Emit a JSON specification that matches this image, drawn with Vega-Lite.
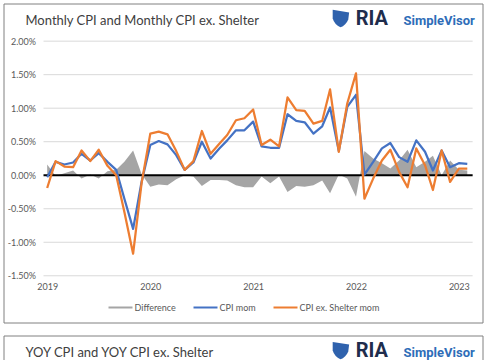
{
  "$schema": "https://vega.github.io/schema/vega-lite/v6.json",
  "padding": {"left": 2.5, "top": 2.5, "right": 0, "bottom": 0},
  "background": "white",
  "spacing": 11,
  "resolve": {"scale": {"color": "independent"}, "legend": {"color": "independent"}},
  "config": {
    "view": {"stroke": "#808080", "strokeWidth": 1},
    "font": "Lato",
    "legend": {"layout": {"bottom": {"anchor": "middle"}}}
  },
  "vconcat": [
    {
      "width": 479,
      "height": 319,
      "data": {"values": [
        {"date":"2019-06-01","cpi":-0.03,"ex":-0.19,"diff":0.16},
        {"date":"2019-07-01","cpi":0.20,"ex":0.21,"diff":-0.01},
        {"date":"2019-08-01","cpi":0.16,"ex":0.13,"diff":0.03},
        {"date":"2019-09-01","cpi":0.19,"ex":0.12,"diff":0.07},
        {"date":"2019-10-01","cpi":0.32,"ex":0.37,"diff":-0.05},
        {"date":"2019-11-01","cpi":0.22,"ex":0.21,"diff":0.01},
        {"date":"2019-12-01","cpi":0.33,"ex":0.38,"diff":-0.05},
        {"date":"2020-01-01","cpi":0.20,"ex":0.14,"diff":0.06},
        {"date":"2020-02-01","cpi":0.08,"ex":0.00,"diff":0.08},
        {"date":"2020-03-01","cpi":-0.35,"ex":-0.55,"diff":0.20},
        {"date":"2020-04-01","cpi":-0.80,"ex":-1.17,"diff":0.37},
        {"date":"2020-05-01","cpi":-0.10,"ex":-0.12,"diff":0.02},
        {"date":"2020-06-01","cpi":0.45,"ex":0.62,"diff":-0.17},
        {"date":"2020-07-01","cpi":0.51,"ex":0.65,"diff":-0.14},
        {"date":"2020-08-01","cpi":0.46,"ex":0.61,"diff":-0.15},
        {"date":"2020-09-01","cpi":0.30,"ex":0.36,"diff":-0.06},
        {"date":"2020-10-01","cpi":0.08,"ex":0.08,"diff":0.00},
        {"date":"2020-11-01","cpi":0.19,"ex":0.21,"diff":-0.02},
        {"date":"2020-12-01","cpi":0.50,"ex":0.66,"diff":-0.16},
        {"date":"2021-01-01","cpi":0.25,"ex":0.32,"diff":-0.07},
        {"date":"2021-02-01","cpi":0.40,"ex":0.47,"diff":-0.07},
        {"date":"2021-03-01","cpi":0.52,"ex":0.60,"diff":-0.08},
        {"date":"2021-04-01","cpi":0.67,"ex":0.82,"diff":-0.15},
        {"date":"2021-05-01","cpi":0.67,"ex":0.85,"diff":-0.18},
        {"date":"2021-06-01","cpi":0.80,"ex":0.98,"diff":-0.18},
        {"date":"2021-07-01","cpi":0.43,"ex":0.45,"diff":-0.02},
        {"date":"2021-08-01","cpi":0.41,"ex":0.53,"diff":-0.12},
        {"date":"2021-09-01","cpi":0.41,"ex":0.43,"diff":-0.02},
        {"date":"2021-10-01","cpi":0.91,"ex":1.16,"diff":-0.25},
        {"date":"2021-11-01","cpi":0.81,"ex":0.97,"diff":-0.16},
        {"date":"2021-12-01","cpi":0.79,"ex":0.96,"diff":-0.17},
        {"date":"2022-01-01","cpi":0.62,"ex":0.77,"diff":-0.15},
        {"date":"2022-02-01","cpi":0.73,"ex":0.81,"diff":-0.08},
        {"date":"2022-03-01","cpi":1.01,"ex":1.28,"diff":-0.27},
        {"date":"2022-04-01","cpi":0.36,"ex":0.35,"diff":0.01},
        {"date":"2022-05-01","cpi":1.02,"ex":1.07,"diff":-0.05},
        {"date":"2022-06-01","cpi":1.20,"ex":1.52,"diff":-0.32},
        {"date":"2022-07-01","cpi":0.01,"ex":-0.35,"diff":0.36},
        {"date":"2022-08-01","cpi":0.20,"ex":-0.05,"diff":0.25},
        {"date":"2022-09-01","cpi":0.40,"ex":0.22,"diff":0.18},
        {"date":"2022-10-01","cpi":0.48,"ex":0.38,"diff":0.10},
        {"date":"2022-11-01","cpi":0.27,"ex":0.05,"diff":0.22},
        {"date":"2022-12-01","cpi":0.20,"ex":-0.18,"diff":0.38},
        {"date":"2023-01-01","cpi":0.52,"ex":0.40,"diff":0.12},
        {"date":"2023-02-01","cpi":0.35,"ex":0.15,"diff":0.20},
        {"date":"2023-03-01","cpi":0.07,"ex":-0.22,"diff":0.29},
        {"date":"2023-04-01","cpi":0.37,"ex":0.37,"diff":0.00},
        {"date":"2023-05-01","cpi":0.12,"ex":-0.10,"diff":0.22},
        {"date":"2023-06-01","cpi":0.18,"ex":0.10,"diff":0.08},
        {"date":"2023-07-01","cpi":0.17,"ex":0.10,"diff":0.07}
      ]},
      "layer": [
        {
          "data": {"values": [{"v":-1.5},{"v":-1.0},{"v":-0.5},{"v":0.5},{"v":1.0},{"v":1.5},{"v":2.0}]},
          "mark": {"type": "rule", "color": "#d9d9d9", "strokeWidth": 1},
          "encoding": {
            "y": {"field": "v", "type": "quantitative", "title": null,
                  "scale": {"domain": [-2.197, 2.562], "nice": false, "zero": false},
                  "axis": {"values": [-1.5,-1,-0.5,0,0.5,1,1.5,2], "labelExpr": "(datum.value < 0 ? '-' : '') + format(abs(datum.value), '.2f') + '%'", "domain": false, "ticks": false, "grid": false, "offset": -40, "labelPadding": 8, "labelFontSize": 9, "labelColor": "#595959", "labelFont": "Lato"}},
            "x": {"datum": {"year": 2019, "month": 5, "date": 19, "utc": true}, "type": "temporal"},
            "x2": {"datum": {"year": 2023, "month": 7, "date": 20, "utc": true}}
          }
        },
        {
          "mark": {"type": "area", "opacity": 1},
          "encoding": {
            "x": {"field": "date", "type": "temporal", "title": null,
                  "scale": {"domain": [{"year": 2018, "month": 12, "date": 28, "utc": true}, {"year": 2023, "month": 8, "date": 24, "utc": true}]},
                  "axis": {"values": [{"year": 2019, "month": 6, "date": 1, "utc": true},{"year": 2020, "month": 6, "date": 1, "utc": true},{"year": 2021, "month": 6, "date": 1, "utc": true},{"year": 2022, "month": 6, "date": 1, "utc": true},{"year": 2023, "month": 6, "date": 1, "utc": true}],
                           "labelExpr": "utcFormat(datum.value, '%Y')", "domain": false, "ticks": false, "grid": false, "offset": -47, "labelPadding": 7, "labelFontSize": 9, "labelColor": "#595959", "labelFont": "Lato"}},
            "y": {"field": "diff", "type": "quantitative", "title": null},
            "color": {"datum": "Difference",
                      "scale": {"domain": ["Difference", "CPI mom", "CPI ex. Shelter mom"], "range": ["#a5a5a5", "#4472c4", "#ed7d31"]},
                      "legend": {"orient": "bottom", "direction": "horizontal", "title": null, "offset": -28, "symbolType": "stroke", "symbolSize": 576, "symbolStrokeWidth": 2, "labelFontSize": 9, "labelColor": "#595959", "labelFont": "Lato", "columnPadding": 13, "labelOffset": 1,
                                 "encode": {"symbols": {"update": {"strokeWidth": {"signal": "datum.value === 'Difference' ? 5 : 2"}}}}}}
          }
        },
        {
          "data": {"values": [{}]},
          "mark": {"type": "rule", "color": "#000000", "strokeWidth": 2},
          "encoding": {
            "y": {"datum": 0},
            "x": {"datum": {"year": 2019, "month": 5, "date": 19, "utc": true}, "type": "temporal"},
            "x2": {"datum": {"year": 2023, "month": 7, "date": 20, "utc": true}}
          }
        },
        {
          "mark": {"type": "line", "strokeWidth": 2.25, "strokeJoin": "round"},
          "encoding": {
            "x": {"field": "date", "type": "temporal"},
            "y": {"field": "cpi", "type": "quantitative", "title": null},
            "color": {"datum": "CPI mom"}
          }
        },
        {
          "mark": {"type": "line", "strokeWidth": 2.25, "strokeJoin": "round"},
          "encoding": {
            "x": {"field": "date", "type": "temporal"},
            "y": {"field": "ex", "type": "quantitative", "title": null},
            "color": {"datum": "CPI ex. Shelter mom"}
          }
        },
        {
          "data": {"values": [{}]},
          "mark": {"type": "text", "text": "Monthly CPI and Monthly CPI ex. Shelter", "font": "Lato", "fontSize": 13, "color": "#404040", "align": "left", "baseline": "alphabetic"},
          "encoding": {
            "x": {"datum": {"year": 2019, "month": 3, "date": 16, "utc": true}, "type": "temporal"},
            "y": {"datum": 2.234}
          }
        },
        {
          "data": {"values": [{}]},
          "mark": {"type": "point", "shape": "M-0.9,-1 L1,-0.7 L0.9,0.1 Q0.6,0.8 0,1 Q-0.7,0.7 -0.9,0 Z", "filled": true, "color": "#2f62ad", "size": 300, "opacity": 1},
          "encoding": {
            "x": {"datum": {"year": 2022, "month": 4, "date": 7, "utc": true}, "type": "temporal"},
            "y": {"datum": 2.338}
          }
        },
        {
          "data": {"values": [{}]},
          "mark": {"type": "text", "text": "RIA", "font": "Roboto", "fontSize": 20, "fontWeight": "bold", "color": "#1f2d4d", "align": "left", "baseline": "alphabetic"},
          "encoding": {
            "x": {"datum": {"year": 2022, "month": 5, "date": 31, "utc": true}, "type": "temporal"},
            "y": {"datum": 2.234}
          }
        },
        {
          "data": {"values": [{}]},
          "mark": {"type": "text", "text": "SimpleVisor", "font": "Roboto", "fontSize": 13, "fontWeight": "bold", "color": "#2e6db8", "align": "left", "baseline": "alphabetic"},
          "encoding": {
            "x": {"datum": {"year": 2022, "month": 11, "date": 17, "utc": true}, "type": "temporal"},
            "y": {"datum": 2.234}
          }
        }
      ]
    },
    {
      "width": 479,
      "height": 28,
      "data": {"values": [{}]},
      "layer": [
        {
          "mark": {"type": "point", "shape": "M-0.9,-1 L1,-0.7 L0.9,0.1 Q0.6,0.8 0,1 Q-0.7,0.7 -0.9,0 Z", "filled": true, "color": "#2f62ad", "size": 300, "opacity": 1},
          "encoding": {
            "x": {"datum": {"year": 2022, "month": 4, "date": 7, "utc": true}, "type": "temporal",
                  "scale": {"domain": [{"year": 2018, "month": 12, "date": 28, "utc": true}, {"year": 2023, "month": 8, "date": 24, "utc": true}]}, "axis": null},
            "y": {"datum": 0.46, "scale": {"domain": [0, 1], "nice": false, "zero": false}, "axis": null}
          }
        },
        {
          "mark": {"type": "text", "text": "YOY CPI and YOY CPI ex. Shelter", "font": "Lato", "fontSize": 13, "color": "#404040", "align": "left", "baseline": "alphabetic"},
          "encoding": {
            "x": {"datum": {"year": 2019, "month": 3, "date": 16, "utc": true}, "type": "temporal"},
            "y": {"datum": 0.25}
          }
        },
        {
          "mark": {"type": "text", "text": "RIA", "font": "Roboto", "fontSize": 20, "fontWeight": "bold", "color": "#1f2d4d", "align": "left", "baseline": "alphabetic"},
          "encoding": {
            "x": {"datum": {"year": 2022, "month": 5, "date": 31, "utc": true}, "type": "temporal"},
            "y": {"datum": 0.25}
          }
        },
        {
          "mark": {"type": "text", "text": "SimpleVisor", "font": "Roboto", "fontSize": 13, "fontWeight": "bold", "color": "#2e6db8", "align": "left", "baseline": "alphabetic"},
          "encoding": {
            "x": {"datum": {"year": 2022, "month": 11, "date": 17, "utc": true}, "type": "temporal"},
            "y": {"datum": 0.25}
          }
        }
      ]
    }
  ]
}
